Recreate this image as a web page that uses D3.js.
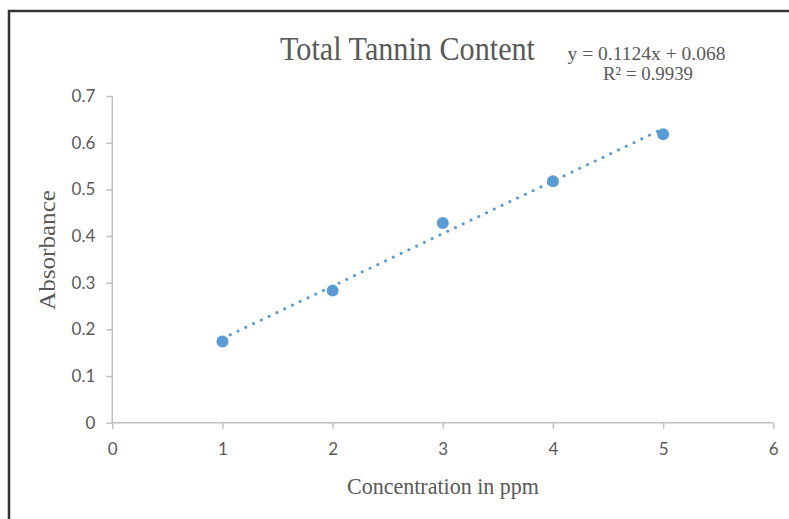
<!DOCTYPE html>
<html lang="en">
    <head>
        <meta charset="utf-8">
        <title>Total Tannin Content</title>
        <style>
            body { margin: 0; background: #fff; }
            svg { display: block; }
            .tick text { font-family: Lato, "Noto Sans", sans-serif; font-size: 17px; fill: #595959; }
            .tick line { stroke: #bfbfbf; stroke-width: 1.5; }
            .serif { font-family: "Liberation Serif", "DejaVu Serif", serif; fill: #595959; }
        </style>
    </head>
    <body>
        <div id="chart"></div>
        <script src="https://d3js.org/d3.v7.min.js"></script>
        <script>
            const w = 789;
            const h = 519;

            // data
            const concentration = [1, 2, 3, 4, 5];
            const absorbance = [0.174, 0.283, 0.428, 0.5175, 0.618];
            const xTicks = [0, 1, 2, 3, 4, 5, 6];
            const yTicks = [0, 0.1, 0.2, 0.3, 0.4, 0.5, 0.6, 0.7];
            // linear trend from the label
            const slope = 0.1124;
            const intercept = 0.068;
            const rSquared = 0.9939;

            const blue = "#5b9bd5";

            const svg = d3.select("#chart")
                .append("svg")
                .attr("width", w)
                .attr("height", h);

            // outer frame (runs off the right and bottom edges)
            svg.append("rect")
                .attr("x", 9)
                .attr("y", 11)
                .attr("width", 900)
                .attr("height", 700)
                .attr("fill", "none")
                .attr("stroke", "#333")
                .attr("stroke-width", 2.5);

            const x = d3.scaleLinear().domain([0, 6]).range([112.3, 773.3]);
            const y = d3.scaleLinear().domain([0, 0.7]).range([422.7, 96]);

            svg.append("g")
                .attr("transform", "translate(0," + y(0) + ")")
                .call(d3.axisBottom(x).tickValues(xTicks).tickSize(6).tickPadding(14).tickFormat(d3.format("d")));

            svg.append("g")
                .attr("transform", "translate(" + x(0) + ",0)")
                .call(d3.axisLeft(y).tickValues(yTicks).tickSize(6).tickPadding(11).tickFormat(d => d === 0 ? "0" : d3.format(".1f")(d)));

            // plain axis lines without the end caps
            svg.selectAll(".domain").remove();
            svg.append("line")
                .attr("x1", x(0)).attr("x2", x(6))
                .attr("y1", y(0)).attr("y2", y(0))
                .attr("stroke", "#bfbfbf").attr("stroke-width", 1.5);
            svg.append("line")
                .attr("x1", x(0)).attr("x2", x(0))
                .attr("y1", y(0)).attr("y2", y(0.7))
                .attr("stroke", "#bfbfbf").attr("stroke-width", 1.5);

            // trendline
            const xFirst = d3.min(concentration);
            const xLast = d3.max(concentration);
            svg.append("line")
                .attr("x1", x(xFirst))
                .attr("y1", y(slope * xFirst + intercept))
                .attr("x2", x(xLast))
                .attr("y2", y(slope * xLast + intercept))
                .attr("stroke", blue)
                .attr("stroke-width", 3)
                .attr("stroke-linecap", "round")
                .attr("stroke-dasharray", "0.1 8.5");

            svg.selectAll("circle")
                .data(concentration)
                .enter()
                .append("circle")
                .attr("cx", d => x(d))
                .attr("cy", (d, i) => y(absorbance[i]))
                .attr("r", 6)
                .attr("fill", blue);

            svg.append("text")
                .attr("class", "serif")
                .attr("x", 407.5)
                .attr("y", 60)
                .attr("text-anchor", "middle")
                .attr("font-size", 33)
                .attr("textLength", 255)
                .attr("lengthAdjust", "spacingAndGlyphs")
                .text("Total Tannin Content");

            svg.append("text")
                .attr("class", "serif")
                .attr("x", 646.5)
                .attr("y", 60)
                .attr("text-anchor", "middle")
                .attr("font-size", 19)
                .attr("textLength", 158)
                .attr("lengthAdjust", "spacingAndGlyphs")
                .text("y = " + slope + "x + " + intercept);

            svg.append("text")
                .attr("class", "serif")
                .attr("x", 648)
                .attr("y", 80)
                .attr("text-anchor", "middle")
                .attr("font-size", 19)
                .attr("textLength", 90)
                .attr("lengthAdjust", "spacingAndGlyphs")
                .text("R² = " + rSquared);

            svg.append("text")
                .attr("class", "serif")
                .attr("transform", "translate(55,250) rotate(-90)")
                .attr("text-anchor", "middle")
                .attr("font-size", 23)
                .attr("textLength", 120)
                .attr("lengthAdjust", "spacingAndGlyphs")
                .text("Absorbance");

            svg.append("text")
                .attr("class", "serif")
                .attr("x", 443)
                .attr("y", 494)
                .attr("text-anchor", "middle")
                .attr("font-size", 23)
                .attr("textLength", 192)
                .attr("lengthAdjust", "spacingAndGlyphs")
                .text("Concentration in ppm");
        </script>
    </body>
</html>
